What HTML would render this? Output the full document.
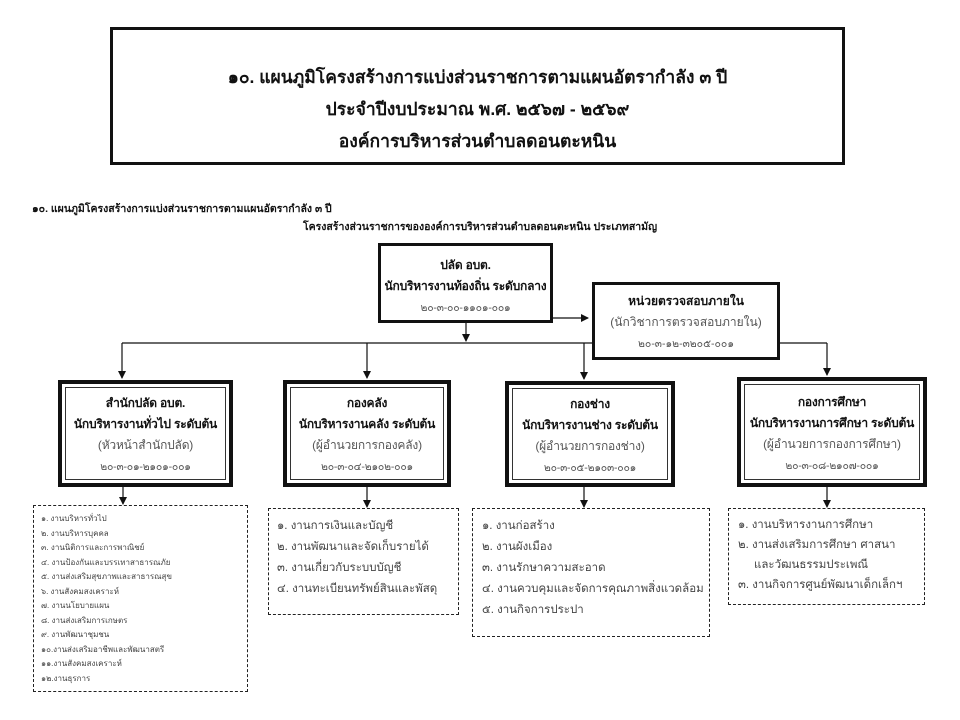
<!DOCTYPE html>
<html><head><meta charset="utf-8"><style>
body{margin:0;width:960px;height:720px;background:#fff;position:relative;overflow:hidden;font-family:"Liberation Sans","DejaVu Sans",sans-serif;color:#111}
.a{position:absolute}
.t{position:absolute;border:3px solid #111;box-sizing:border-box;text-align:center;font-weight:bold}
.b{position:absolute;border:4px solid #111;box-sizing:border-box;background:#fff}
.b .in{position:absolute;left:3px;top:3px;right:3px;bottom:3px;border:1px solid #333;text-align:center;font-size:12px;line-height:21px;padding-top:5px;white-space:nowrap;letter-spacing:-0.2px}
.bold{font-weight:bold;color:#111}
.g{color:#555}
.d{position:absolute;border:1.5px dashed #222;box-sizing:border-box;background:#fff;color:#444;white-space:nowrap}
</style></head><body>
<div class="t" style="left:110px;top:27px;width:735px;height:138px;font-size:17.5px;line-height:32px;padding-top:31px">
๑๐. แผนภูมิโครงสร้างการแบ่งส่วนราชการตามแผนอัตรากำลัง ๓ ปี<br>ประจำปีงบประมาณ พ.ศ. ๒๕๖๗ - ๒๕๖๙<br>องค์การบริหารส่วนตำบลดอนตะหนิน</div>
<div class="a" style="left:32px;top:200px;font-size:10.5px;font-weight:bold">๑๐. แผนภูมิโครงสร้างการแบ่งส่วนราชการตามแผนอัตรากำลัง ๓ ปี</div>
<div class="a" style="left:0;width:960px;top:218px;font-size:10.5px;font-weight:bold;text-align:center">โครงสร้างส่วนราชการขององค์การบริหารส่วนตำบลดอนตะหนิน ประเภทสามัญ</div>

<svg class="a" style="left:0;top:0" width="960" height="720">
<defs><marker id="ar" markerWidth="8" markerHeight="8" refX="7" refY="4" orient="auto" markerUnits="userSpaceOnUse"><path d="M0,0 L8,4 L0,8z" fill="#111"/></marker></defs>
<g stroke="#111" stroke-width="1.2" fill="none">
<line x1="466" y1="318" x2="588" y2="318" marker-end="url(#ar)"/>
<line x1="466" y1="318" x2="466" y2="341" marker-end="url(#ar)"/>
<line x1="122" y1="343" x2="592" y2="343"/>
<line x1="779" y1="343" x2="827" y2="343"/>
<line x1="122" y1="343" x2="122" y2="378" marker-end="url(#ar)"/>
<line x1="367" y1="343" x2="367" y2="378" marker-end="url(#ar)"/>
<line x1="584" y1="343" x2="584" y2="379" marker-end="url(#ar)"/>
<line x1="827" y1="343" x2="827" y2="375" marker-end="url(#ar)"/>
<line x1="123" y1="487" x2="123" y2="504" marker-end="url(#ar)"/>
<line x1="367" y1="487" x2="367" y2="507" marker-end="url(#ar)"/>
<line x1="584" y1="487" x2="584" y2="507" marker-end="url(#ar)"/>
<line x1="827" y1="487" x2="827" y2="507" marker-end="url(#ar)"/>
</g></svg>

<div class="a" style="left:378px;top:243px;width:175px;height:80px;border:3px solid #111;box-sizing:border-box;background:#fff;text-align:center;font-size:12px;line-height:21px;padding-top:9px;white-space:nowrap;letter-spacing:-0.2px"><span class="bold">ปลัด อบต.<br>นักบริหารงานท้องถิ่น ระดับกลาง</span><br><span class="g" style="font-size:10.5px">๒๐-๓-๐๐-๑๑๐๑-๐๐๑</span></div>
<div class="a" style="left:592px;top:282px;width:188px;height:78px;border:3px solid #111;box-sizing:border-box;background:#fff;text-align:center;font-size:12px;line-height:21px;padding-top:6px;white-space:nowrap"><span class="bold">หน่วยตรวจสอบภายใน</span><br><span class="g">(นักวิชาการตรวจสอบภายใน)</span><br><span class="g" style="font-size:10.5px">๒๐-๓-๑๒-๓๒๐๕-๐๐๑</span></div>

<div class="b" style="left:58px;top:380px;width:175px;height:107px"><div class="in"><span class="bold">สำนักปลัด อบต.<br>นักบริหารงานทั่วไป ระดับต้น</span><br><span class="g">(หัวหน้าสำนักปลัด)</span><br><span class="g" style="font-size:10.5px">๒๐-๓-๐๑-๒๑๐๑-๐๐๑</span></div></div>
<div class="b" style="left:283px;top:380px;width:168px;height:107px"><div class="in"><span class="bold">กองคลัง<br>นักบริหารงานคลัง ระดับต้น</span><br><span class="g">(ผู้อำนวยการกองคลัง)</span><br><span class="g" style="font-size:10.5px">๒๐-๓-๐๔-๒๑๐๒-๐๐๑</span></div></div>
<div class="b" style="left:505px;top:381px;width:170px;height:106px"><div class="in"><span class="bold">กองช่าง<br>นักบริหารงานช่าง ระดับต้น</span><br><span class="g">(ผู้อำนวยการกองช่าง)</span><br><span class="g" style="font-size:10.5px">๒๐-๓-๐๕-๒๑๐๓-๐๐๑</span></div></div>
<div class="b" style="left:737px;top:377px;width:190px;height:110px"><div class="in" style="padding-top:7px"><span class="bold">กองการศึกษา<br>นักบริหารงานการศึกษา ระดับต้น</span><br><span class="g">(ผู้อำนวยการกองการศึกษา)</span><br><span class="g" style="font-size:10.5px">๒๐-๓-๐๘-๒๑๐๗-๐๐๑</span></div></div>

<div class="d" style="left:33px;top:505px;width:215px;height:187px;font-size:8px;line-height:14.5px;padding:6px 0 0 7px">๑. งานบริหารทั่วไป<br>๒. งานบริหารบุคคล<br>๓. งานนิติการและการพาณิชย์<br>๔. งานป้องกันและบรรเทาสาธารณภัย<br>๕. งานส่งเสริมสุขภาพและสาธารณสุข<br>๖. งานสังคมสงเคราะห์<br>๗. งานนโยบายแผน<br>๘. งานส่งเสริมการเกษตร<br>๙. งานพัฒนาชุมชน<br>๑๐.งานส่งเสริมอาชีพและพัฒนาสตรี<br>๑๑.งานสังคมสงเคราะห์<br>๑๒.งานธุรการ</div>
<div class="d" style="left:268px;top:508px;width:191px;height:107px;font-size:11.5px;line-height:21px;padding:7px 0 0 8px">๑. งานการเงินและบัญชี<br>๒. งานพัฒนาและจัดเก็บรายได้<br>๓. งานเกี่ยวกับระบบบัญชี<br>๔. งานทะเบียนทรัพย์สินและพัสดุ</div>
<div class="d" style="left:472px;top:508px;width:238px;height:129px;font-size:11.5px;line-height:21px;padding:7px 0 0 9px">๑. งานก่อสร้าง<br>๒. งานผังเมือง<br>๓. งานรักษาความสะอาด<br>๔. งานควบคุมและจัดการคุณภาพสิ่งแวดล้อม<br>๕. งานกิจการประปา</div>
<div class="d" style="left:728px;top:508px;width:197px;height:97px;font-size:11.5px;line-height:20px;padding:6px 0 0 9px">๑. งานบริหารงานการศึกษา<br>๒. งานส่งเสริมการศึกษา ศาสนา<br>&nbsp;&nbsp;&nbsp;&nbsp;&nbsp;และวัฒนธรรมประเพณี<br>๓. งานกิจการศูนย์พัฒนาเด็กเล็กฯ</div>
</body></html>
